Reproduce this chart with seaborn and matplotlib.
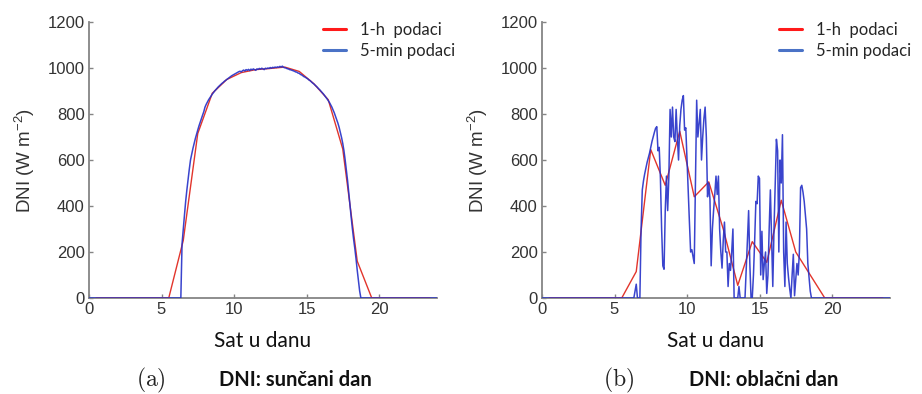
import numpy as np
import pandas as pd
import matplotlib
matplotlib.use("Agg")
import matplotlib.pyplot as plt
from matplotlib.lines import Line2D
import seaborn as sns

# ---- data -----------------------------------------------------------------
hours_1h = [h + 0.5 for h in range(24)]

sunny_1h = [0, 0, 0, 0, 0, 0, 250, 715, 890, 950, 980, 993,
            998, 1004, 985, 932, 862, 648, 160, 0, 0, 0, 0, 0]

cloudy_1h = [0, 0, 0, 0, 0, 0, 115, 645, 490, 725, 440, 505,
             300, 55, 245, 155, 425, 200, 100, 0, 0, 0, 0, 0]

# 5-minute samples from 06:00 to 19:00 (12 per hour)
day_start_5min = 6.0
sunny_5min = [
    0, 0, 0, 0, 0, 235, 300, 360, 420, 470, 515, 560,
    600, 625, 650, 672, 693, 712, 730, 748, 764, 779, 795, 810,
    830, 842, 852, 862, 870, 878, 886, 893, 900, 906, 912, 918,
    923, 928, 933, 937, 942, 946, 950, 954, 958, 962, 966, 969,
    972, 975, 978, 981, 984, 986, 983, 988, 991, 987, 993, 990,
    994, 989, 995, 992, 996, 993, 990, 996, 994, 998, 995, 999,
    996, 993, 999, 997, 1000, 998, 1002, 999, 1003, 1001, 1004, 1002,
    1005, 1003, 1007, 1004, 1008, 1003, 1001, 1000, 997, 996, 993, 992,
    990, 988, 986, 983, 982, 978, 977, 972, 970, 966, 962, 960,
    956, 953, 948, 945, 940, 935, 931, 926, 921, 916, 910, 905,
    899, 893, 887, 880, 873, 866, 858, 850, 840, 830, 818, 805,
    790, 775, 760, 742, 720, 698, 672, 640, 600, 555, 510, 455,
    400, 350, 300, 255, 215, 170, 120, 75, 30, 0, 0, 0,
    0,
]
cloudy_5min = [
    0, 0, 0, 0, 0, 30, 60, 0, 0, 0, 300, 470,
    510, 540, 565, 590, 610, 630, 655, 680, 700, 720, 738, 745,
    640, 655, 520, 300, 140, 125, 380, 530, 380, 530, 820, 700,
    830, 700, 680, 820, 700, 600, 750, 820, 860, 880, 730, 740,
    600, 450, 330, 200, 210, 180, 150, 500, 860, 700, 760, 820,
    600, 700, 780, 830, 700, 440, 500, 430, 140, 300, 380, 450,
    530, 450, 530, 300, 200, 130, 250, 330, 200, 200, 50, 150,
    120, 200, 300, 0, 0, 0, 0, 50, 0, 0, 0, 0,
    0, 120, 250, 380, 150, 0, 0, 100, 250, 420, 410, 530,
    520, 100, 290, 80, 150, 200, 20, 100, 300, 470, 250, 50,
    300, 500, 690, 640, 200, 600, 500, 710, 200, 50, 330, 150,
    90, 40, 0, 100, 190, 10, 80, 150, 100, 200, 480, 490,
    460, 420, 360, 300, 150, 90, 30, 0, 0, 0, 0, 0,
    0,
]

legend_labels = ["1-h  podaci", "5-min podaci"]
panel_tags = ["(a)", "(b)"]
panel_titles = ["DNI: sunčani dan", "DNI: oblačni dan"]
x_ticks = [0, 5, 10, 15, 20]
y_ticks = [0, 200, 400, 600, 800, 1000, 1200]


def full_day_5min(values, start):
    """Pad a daytime 5-min record with the zero night-time samples."""
    step = 5 / 60
    n_before = int(round(start / step))
    n_after = int(round(24 / step)) + 1 - n_before - len(values)
    vals = [0] * n_before + list(values) + [0] * n_after
    t = np.arange(len(vals)) * step
    return pd.DataFrame({"sat": t, "dni": vals})


# ---- style ----------------------------------------------------------------
sns.set_theme(style="ticks")
plt.rcParams["font.family"] = ["Liberation Sans", "DejaVu Sans"]
plt.rcParams["mathtext.fontset"] = "custom"
plt.rcParams["mathtext.rm"] = "Liberation Sans"
plt.rcParams["mathtext.it"] = "Liberation Sans:italic"
plt.rcParams["mathtext.bf"] = "Liberation Sans:bold"

RED = "#e2352c"
BLUE = "#2430c8"
AXIS_GREY = "#858585"
TEXT_GREY = "#333333"

fig = plt.figure(figsize=(9.22, 3.94), dpi=100)
ax_w = 348 / 922
ax_h = 276 / 394
ax_b = (394 - 298) / 394
axes = [fig.add_axes([89 / 922, ax_b, ax_w, ax_h]),
        fig.add_axes([542 / 922, ax_b, ax_w, ax_h])]

series = [(sunny_1h, sunny_5min), (cloudy_1h, cloudy_5min)]
legend_x = [0.672, 0.681]

for i, (ax, (hourly, fine)) in enumerate(zip(axes, series)):
    df_h = pd.DataFrame({"sat": hours_1h, "dni": hourly})
    df_f = full_day_5min(fine, day_start_5min)
    sns.lineplot(data=df_h, x="sat", y="dni", ax=ax, color=RED,
                 linewidth=1.0, legend=False, zorder=2)
    sns.lineplot(data=df_f, x="sat", y="dni", ax=ax, color=BLUE,
                 linewidth=1.1, alpha=0.9, legend=False, zorder=3)

    ax.set_xlim(0, 24)
    ax.set_ylim(0, 1200)
    ax.set_xticks(x_ticks)
    ax.set_yticks(y_ticks)
    ax.tick_params(direction="in", length=3, width=1, color=AXIS_GREY,
                   labelsize=12, labelcolor=TEXT_GREY, pad=3)
    sns.despine(ax=ax)
    for s in ("left", "bottom"):
        ax.spines[s].set_color(AXIS_GREY)
        ax.spines[s].set_linewidth(1.3)
        ax.spines[s].set_zorder(1)

    ax.set_ylabel(r"DNI (W m$^{-2}$)", fontsize=13.5, color=TEXT_GREY)
    ax.yaxis.set_label_coords(-0.148, 0.5)
    ax.set_xlabel("Sat u danu", fontsize=15, family="Lato", color="#111111")
    ax.xaxis.set_label_coords(0.5, -0.12)

    handles = [Line2D([], [], color="#ff1a1a", lw=2.2),
               Line2D([], [], color="#4a72c6", lw=2.2)]
    ax.legend(handles, legend_labels, loc="upper left",
              bbox_to_anchor=(legend_x[i], 1.0), frameon=False,
              prop={"family": "Lato", "size": 12},
              handlelength=1.4, handletextpad=0.8, labelspacing=0.3,
              borderpad=0, borderaxespad=0)

# panel captions
tag_x = [151 / 922, 619 / 922]
title_x = [295 / 922, 764 / 922]
cap_y = 1 - 380 / 394
for i in range(2):
    fig.text(tag_x[i], cap_y, r"$\mathrm{" + panel_tags[i] + "}$",
             math_fontfamily="cm", fontsize=17, ha="center", va="center",
             color="#222222")
    fig.text(title_x[i], cap_y, panel_titles[i], family="Lato",
             fontweight="bold", fontsize=14.5, ha="center", va="center",
             color="#111111")

fig.savefig("out.png", dpi=100)
